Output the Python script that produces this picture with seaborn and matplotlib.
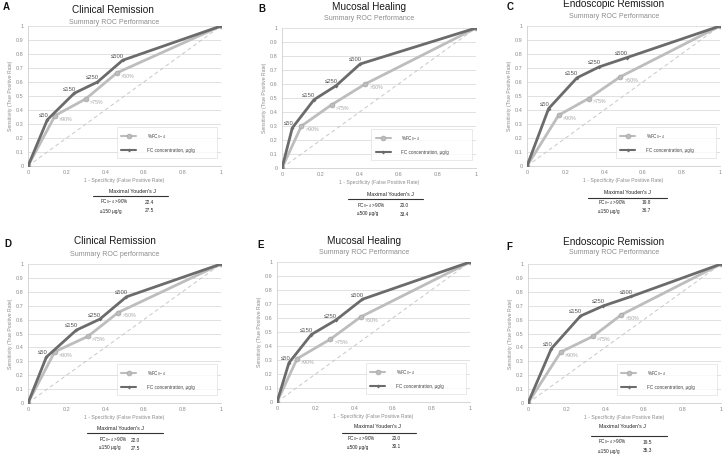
import matplotlib
matplotlib.use("Agg")

import pandas as pd
import seaborn as sns
import matplotlib.pyplot as plt
from matplotlib.lines import Line2D

# ---- data ----
fc_labels = ["≤50", "≤150", "≤250", "≤500"]
pct_labels = [">90%", ">75%", ">50%"]

# A - clinical remission
a_fc_x = [0, 0.10, 0.24, 0.36, 0.49, 1]
a_fc_y = [0, 0.33, 0.52, 0.60, 0.755, 1]
a_pct_x = [0, 0.14, 0.30, 0.46, 1]
a_pct_y = [0, 0.36, 0.48, 0.665, 1]
a_youden = ["FC$_{0-4}$ >90%", "22.4", "≤150 µg/g", "27.5"]

# B - mucosal healing
b_fc_x = [0, 0.053, 0.165, 0.279, 0.403, 1]
b_fc_y = [0, 0.286, 0.488, 0.588, 0.743, 1]
b_pct_x = [0, 0.10, 0.256, 0.429, 1]
b_pct_y = [0, 0.30, 0.452, 0.60, 1]
b_youden = ["FC$_{0-4}$ >90%", "20.0", "≤500 µg/g", "33.4"]

# C - endoscopic remission
c_fc_x = [0, 0.112, 0.259, 0.374, 0.517, 1]
c_fc_y = [0, 0.41, 0.63, 0.708, 0.774, 1]
c_pct_x = [0, 0.164, 0.319, 0.483, 1]
c_pct_y = [0, 0.363, 0.482, 0.637, 1]
c_youden = ["FC$_{0-4}$ >90%", "19.8", "≤150 µg/g", "36.7"]

# D - clinical remission
d_fc_x = [0, 0.095, 0.25, 0.372, 0.51, 1]
d_fc_y = [0, 0.33, 0.524, 0.603, 0.764, 1]
d_pct_x = [0, 0.138, 0.311, 0.467, 1]
d_pct_y = [0, 0.368, 0.48, 0.651, 1]
d_youden = ["FC$_{0-4}$ >90%", "22.0", "≤150 µg/g", "27.5"]

# E - mucosal healing
e_fc_x = [0, 0.062, 0.178, 0.304, 0.443, 1]
e_fc_y = [0, 0.28, 0.482, 0.584, 0.734, 1]
e_pct_x = [0, 0.104, 0.277, 0.434, 1]
e_pct_y = [0, 0.309, 0.449, 0.608, 1]
e_youden = ["FC$_{0-4}$ >90%", "20.0", "≤500 µg/g", "30.1"]

# F - endoscopic remission
f_fc_x = [0, 0.121, 0.272, 0.389, 0.536, 1]
f_fc_y = [0, 0.391, 0.626, 0.698, 0.767, 1]
f_pct_x = [0, 0.17, 0.337, 0.484, 1]
f_pct_y = [0, 0.367, 0.48, 0.635, 1]
f_youden = ["FC$_{0-4}$ >90%", "19.5", "≤150 µg/g", "35.3"]

DARK = "#6b6b6b"
LIGHT = "#bdbdbd"
W, H = 727, 455

# layout in pixels: axes box, letter, title, subtitle, table
panels = [
    dict(letter="A", title="Clinical Remission", sub="Summary ROC Performance",
         fc=(a_fc_x, a_fc_y), pct=(a_pct_x, a_pct_y), youden=a_youden,
         box=(28, 26, 221, 166), let=(3, 7), tit=(113, 10), subt=(114, 22),
         tab=dict(hx=132, hy=191, l0=93, l1=168, ly=196, lx=100, vx=145, r1=202, r2=211)),
    dict(letter="B", title="Mucosal Healing", sub="Summary ROC Performance",
         fc=(b_fc_x, b_fc_y), pct=(b_pct_x, b_pct_y), youden=b_youden,
         box=(282, 28, 476, 168), let=(258, 9), tit=(369, 7), subt=(369, 18),
         tab=dict(hx=390, hy=194, l0=348, l1=423, ly=199, lx=357, vx=400, r1=206, r2=214)),
    dict(letter="C", title="Endoscopic Remission", sub="Summary ROC Performance",
         fc=(c_fc_x, c_fc_y), pct=(c_pct_x, c_pct_y), youden=c_youden,
         box=(527, 26, 720, 166), let=(507, 7), tit=(614, 4), subt=(614, 16),
         tab=dict(hx=627, hy=192, l0=588, l1=667, ly=198, lx=598, vx=642, r1=203, r2=211)),
    dict(letter="D", title="Clinical Remission", sub="Summary ROC performance",
         fc=(d_fc_x, d_fc_y), pct=(d_pct_x, d_pct_y), youden=d_youden,
         box=(28, 264, 221, 403), let=(4, 244), tit=(115, 241), subt=(115, 254),
         tab=dict(hx=120, hy=428, l0=87, l1=163, ly=433, lx=99, vx=131, r1=440, r2=448)),
    dict(letter="E", title="Mucosal Healing", sub="Summary ROC Performance",
         fc=(e_fc_x, e_fc_y), pct=(e_pct_x, e_pct_y), youden=e_youden,
         box=(277, 262, 470, 402), let=(257, 245), tit=(364, 241), subt=(364, 252),
         tab=dict(hx=377, hy=427, l0=342, l1=416, ly=433, lx=347, vx=392, r1=439, r2=447)),
    dict(letter="F", title="Endoscopic Remission", sub="Summary ROC Performance",
         fc=(f_fc_x, f_fc_y), pct=(f_pct_x, f_pct_y), youden=f_youden,
         box=(528, 264, 721, 403), let=(506, 247), tit=(614, 242), subt=(614, 253),
         tab=dict(hx=622, hy=426, l0=591, l1=667, ly=436, lx=598, vx=643, r1=442, r2=451)),
]


def fx(x):
    return x / W


def fy(y):
    return 1 - y / H


def draw_panel(fig, p):
    x0, y0, x1, y1 = p["box"]
    ax = fig.add_axes([fx(x0), fy(y1), (x1 - x0) / W, (y1 - y0) / H])

    ax.plot([0, 1], [0, 1], ls=(0, (4, 3)), color="#c8c8c8", lw=0.7, zorder=1)

    pct_df = pd.DataFrame({"x": p["pct"][0], "y": p["pct"][1]})
    fc_df = pd.DataFrame({"x": p["fc"][0], "y": p["fc"][1]})
    sns.lineplot(data=pct_df, x="x", y="y", ax=ax, sort=False, color=LIGHT, lw=2,
                 marker="o", markersize=3.5, markeredgecolor="#a8a8a8",
                 markeredgewidth=0.5, label="%FC$_{0-4}$", zorder=3)
    sns.lineplot(data=fc_df, x="x", y="y", ax=ax, sort=False, color=DARK, lw=2,
                 marker="D", markersize=2, markeredgewidth=0,
                 label="FC concentration, µg/g", zorder=4)

    for lab, x, y in zip(fc_labels, p["fc"][0][1:-1], p["fc"][1][1:-1]):
        ax.annotate(lab, (x, y), xytext=(1, 3), textcoords="offset points",
                    ha="right", va="center", fontsize=4.2, color="#555555")
    for lab, x, y in zip(pct_labels, p["pct"][0][1:-1], p["pct"][1][1:-1]):
        ax.annotate(lab, (x, y), xytext=(3, -2.5), textcoords="offset points",
                    ha="left", va="center", fontsize=3.8, color="#a6a6a6")

    ax.set_xlim(0, 1)
    ax.set_ylim(0, 1)
    ax.set_xticks([0, 0.2, 0.4, 0.6, 0.8, 1])
    ax.set_xticklabels(["0", "0.2", "0.4", "0.6", "0.8", "1"])
    ax.set_yticks([i / 10 for i in range(11)])
    ax.set_yticklabels(["0"] + ["0.%d" % i for i in range(1, 10)] + ["1"])
    ax.tick_params(labelsize=4, colors="#8c8c8c", length=0, pad=3)
    ax.grid(axis="y", color="#dcdcdc", lw=0.6)
    ax.grid(axis="x", visible=False)
    ax.set_facecolor("white")
    for s in ["top", "right"]:
        ax.spines[s].set_visible(False)
    for s in ["left", "bottom"]:
        ax.spines[s].set_color("#d0d0d0")
        ax.spines[s].set_linewidth(0.6)
    ax.set_xlabel("1 - Specificity (False Positive Rate)", fontsize=3.7,
                  color="#8c8c8c", labelpad=2)
    ax.set_ylabel("Sensitivity (True Positive Rate)", fontsize=3.7,
                  color="#8c8c8c", labelpad=2)

    leg = ax.legend(loc="lower left", bbox_to_anchor=(0.46, 0.06, 0.52, 0.19),
                    mode="expand", fontsize=3.3, frameon=True, fancybox=False,
                    edgecolor="#d9d9d9", handlelength=3.3, handletextpad=2.2,
                    labelspacing=1.6, borderpad=1.0, borderaxespad=0)
    leg.get_frame().set_linewidth(0.5)
    for h in leg.get_lines():
        h.set_linewidth(1.5)
    for t in leg.get_texts():
        t.set_color("#404040")

    fig.text(fx(p["let"][0]), fy(p["let"][1]), p["letter"], fontsize=7,
             fontweight="bold", ha="left", va="center", color="#111111")
    fig.text(fx(p["tit"][0]), fy(p["tit"][1]), p["title"], fontsize=7.2,
             ha="center", va="center", color="#1a1a1a")
    fig.text(fx(p["subt"][0]), fy(p["subt"][1]), p["sub"], fontsize=5,
             ha="center", va="center", color="#8c8c8c")

    t = p["tab"]
    fig.text(fx(t["hx"]), fy(t["hy"]), "Maximal Youden's J", fontsize=3.8,
             ha="center", va="center", color="#222222")
    fig.add_artist(Line2D([fx(t["l0"]), fx(t["l1"])], [fy(t["ly"]), fy(t["ly"])],
                          transform=fig.transFigure, color="#333333", lw=0.8))
    yd = p["youden"]
    for row, ry in ((0, t["r1"]), (1, t["r2"])):
        fig.text(fx(t["lx"]), fy(ry), yd[row * 2], fontsize=3.4, ha="left",
                 va="center", color="#222222")
        fig.text(fx(t["vx"]), fy(ry), yd[row * 2 + 1], fontsize=3.4, ha="left",
                 va="center", color="#222222")


def main():
    sns.set_theme(style="white")
    plt.rcParams["font.family"] = ["Liberation Sans", "DejaVu Sans"]
    plt.rcParams["mathtext.default"] = "regular"

    fig = plt.figure(figsize=(W / 100, H / 100), dpi=100)
    fig.patch.set_facecolor("white")
    for p in panels:
        draw_panel(fig, p)
    fig.savefig("out.png", dpi=100, facecolor="white")


if __name__ == "__main__":
    main()
